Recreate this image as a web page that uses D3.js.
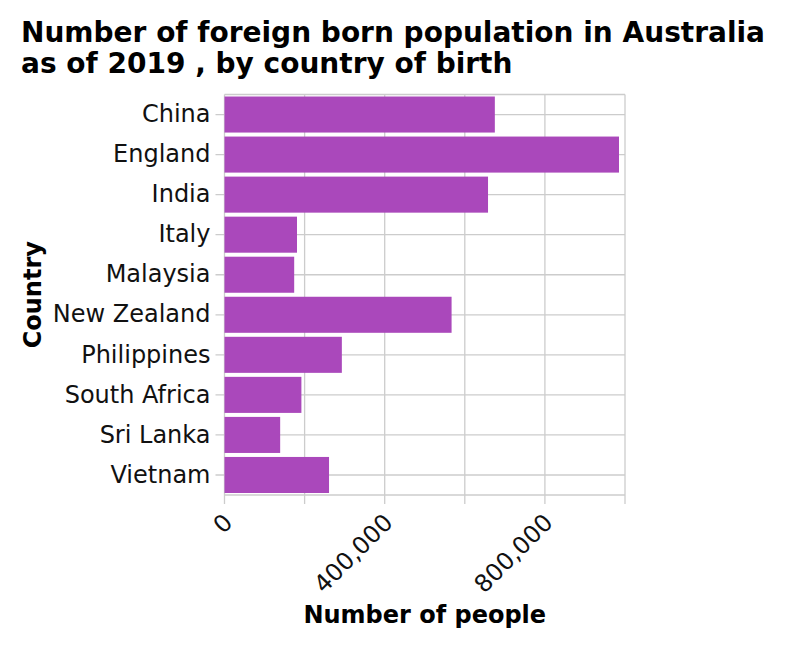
<!DOCTYPE html>
<html>
<head>
<meta charset="utf-8">
<script src="https://cdn.jsdelivr.net/npm/d3@7"></script>
<style>
  body { margin: 0; background: #fff; }
  svg { font-family: "DejaVu Sans", sans-serif; }
</style>
</head>
<body>
<svg id="chart" width="790" height="648"></svg>
<script>
// data
const countries = ["China", "England", "India", "Italy", "Malaysia", "New Zealand",
                   "Philippines", "South Africa", "Sri Lanka", "Vietnam"];
const people = [675000, 985000, 658000, 181000, 174000, 567000, 293000, 192000, 139000, 261000];
const xTicks = [0, 200000, 400000, 600000, 800000, 1000000];
const xLabels = [0, 400000, 800000];

const svg = d3.select("#chart");
const plotLeft = 224.5, plotRight = 625, plotTop = 94.5, plotBottom = 495;

const x = d3.scaleLinear().domain([0, 1000000]).range([plotLeft, plotRight]);
const y = d3.scaleBand().domain(countries).range([plotTop, plotBottom]).paddingInner(0.1).paddingOuter(0.05);

// title
svg.append("text")
    .attr("x", 21).attr("y", 42)
    .attr("font-size", 28).attr("font-weight", "bold")
    .selectAll("tspan")
    .data(["Number of foreign born population in Australia", "as of 2019 , by country of birth"])
    .enter().append("tspan")
    .attr("x", 21)
    .attr("dy", (d, i) => i === 0 ? 0 : 31)
    .text(d => d);

// grid
const grid = svg.append("g").attr("stroke", "#cccccc").attr("stroke-width", 1.3);
grid.selectAll(".vx").data(xTicks).enter().append("line")
    .attr("x1", d => x(d)).attr("x2", d => x(d))
    .attr("y1", plotTop).attr("y2", plotBottom + 9);
grid.selectAll(".hy").data(countries).enter().append("line")
    .attr("x1", plotLeft - 9).attr("x2", plotRight)
    .attr("y1", d => y(d) + y.bandwidth() / 2).attr("y2", d => y(d) + y.bandwidth() / 2);
grid.append("line").attr("x1", plotLeft).attr("x2", plotRight).attr("y1", plotTop).attr("y2", plotTop);
grid.append("line").attr("x1", plotLeft).attr("x2", plotRight).attr("y1", plotBottom).attr("y2", plotBottom);

// bars
svg.append("g").selectAll("rect")
    .data(countries).enter().append("rect")
    .attr("x", x(0))
    .attr("y", d => y(d))
    .attr("width", (d, i) => x(people[i]) - x(0))
    .attr("height", y.bandwidth())
    .attr("fill", "#aa48bb");

// y axis labels
const yAxis = svg.append("g")
    .attr("transform", `translate(${plotLeft},0)`)
    .call(d3.axisLeft(y).tickSize(0).tickPadding(14));
yAxis.select(".domain").remove();
yAxis.selectAll("text").attr("font-size", 24).attr("fill", "#111")
    .attr("font-family", "DejaVu Sans, sans-serif");

// x axis labels
const xAxis = svg.append("g")
    .attr("transform", `translate(0,${plotBottom})`)
    .call(d3.axisBottom(x).tickValues(xLabels).tickSize(0).tickFormat(d3.format(",")));
xAxis.select(".domain").remove();
xAxis.selectAll("text")
    .attr("font-size", 24).attr("fill", "#111")
    .attr("font-family", "DejaVu Sans, sans-serif")
    .attr("text-anchor", "end")
    .attr("x", 0).attr("y", 0).attr("dy", 0)
    .attr("transform", "translate(9,29) rotate(-45)");

// axis titles
svg.append("text")
    .attr("x", (plotLeft + plotRight) / 2).attr("y", 623)
    .attr("text-anchor", "middle")
    .attr("font-size", 24).attr("font-weight", "bold")
    .text("Number of people");

svg.append("text")
    .attr("transform", `translate(41,${(plotTop + plotBottom) / 2}) rotate(-90)`)
    .attr("text-anchor", "middle")
    .attr("font-size", 24).attr("font-weight", "bold")
    .text("Country");
</script>
</body>
</html>
